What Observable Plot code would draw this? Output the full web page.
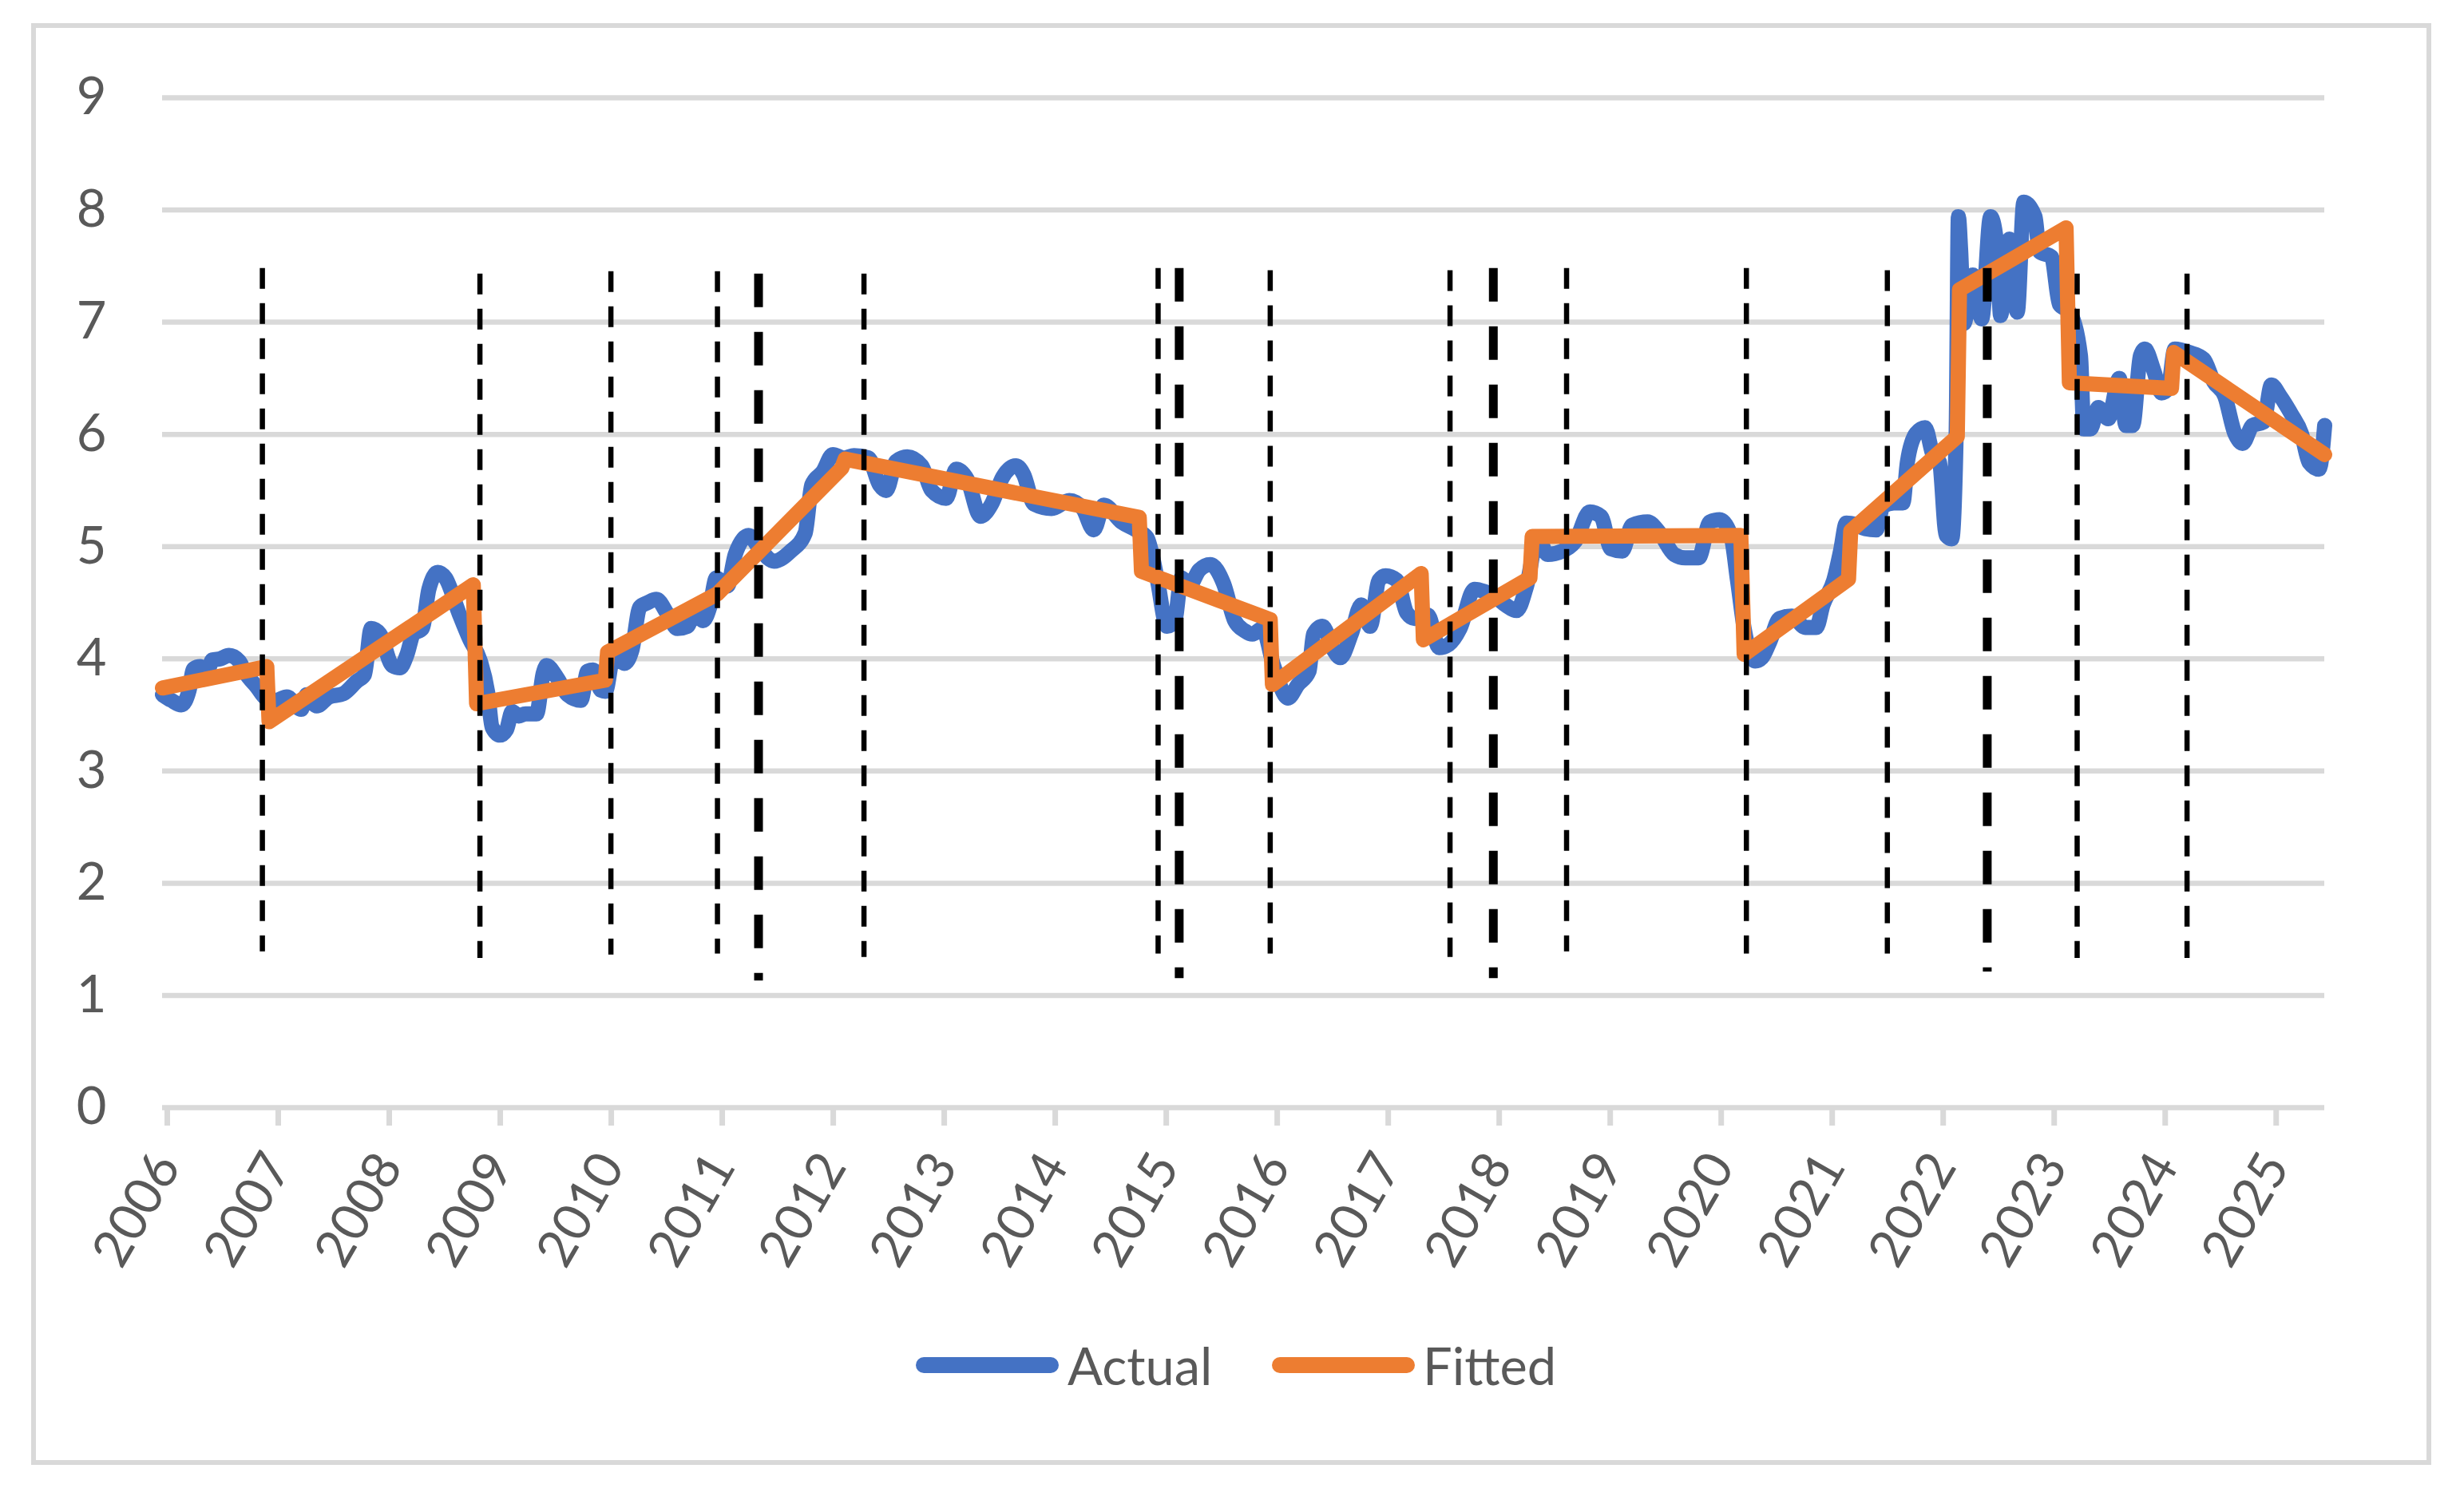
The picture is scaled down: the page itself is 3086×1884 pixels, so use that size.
<!DOCTYPE html>
<html>
<head>
<meta charset="utf-8">
<script src="https://cdn.jsdelivr.net/npm/d3@7"></script>
<script src="https://cdn.jsdelivr.net/npm/@observablehq/plot@0.6"></script>
<style>
  html, body { margin: 0; padding: 0; background: #ffffff; overflow: hidden; }
  #frame {
    position: absolute; left: 39px; top: 29px;
    width: 2994px; height: 1794px;
    border: 6px solid #d9d9d9; background: #ffffff;
  }
  #legend { position: relative; width: 2994px; height: 220px; font-family: Lato, "Open Sans", sans-serif; font-size: 65px; color: #595959; }
  #legend .item { position: absolute; top: 0; height: 220px; display: flex; align-items: center; }
</style>
</head>
<body>
<div id="frame">
  <div id="chart"></div>
  <div id="legend"></div>
</div>
<script>
// ---- Data ----
const seriesNames = ["Actual", "Fitted"];
const seriesColors = ["#4472C4", "#ED7D31"];

// Actual series: decimal year / value
const actualYear = [
  2006.00, 2006.08, 2006.17, 2006.24, 2006.28, 2006.34, 2006.40, 2006.45, 2006.52, 2006.60,
  2006.69, 2006.75, 2006.85, 2006.93, 2007.02, 2007.12, 2007.25, 2007.30, 2007.39, 2007.50,
  2007.63, 2007.75, 2007.82, 2007.88, 2007.96, 2008.07, 2008.14, 2008.20, 2008.26, 2008.34,
  2008.40, 2008.48, 2008.55, 2008.67, 2008.77, 2008.86, 2008.93, 2008.97, 2009.04, 2009.10,
  2009.15, 2009.21, 2009.27, 2009.37, 2009.43, 2009.46, 2009.55, 2009.65, 2009.77, 2009.83,
  2009.88, 2009.95, 2009.99, 2010.07, 2010.16, 2010.23, 2010.30, 2010.37, 2010.45, 2010.55,
  2010.64, 2010.73, 2010.80, 2010.87, 2010.93, 2010.99, 2011.09, 2011.16, 2011.28, 2011.38,
  2011.51, 2011.66, 2011.79, 2011.85, 2011.95, 2012.04, 2012.14, 2012.23, 2012.36, 2012.46,
  2012.52, 2012.61, 2012.71, 2012.84, 2012.93, 2013.06, 2013.15, 2013.25, 2013.37, 2013.47,
  2013.57, 2013.69, 2013.76, 2013.85, 2014.01, 2014.17, 2014.29, 2014.39, 2014.48, 2014.64,
  2014.77, 2014.87, 2014.96, 2015.05, 2015.12, 2015.18, 2015.25, 2015.34, 2015.44, 2015.56,
  2015.66, 2015.75, 2015.82, 2015.91, 2016.01, 2016.14, 2016.23, 2016.33, 2016.37, 2016.45,
  2016.55, 2016.61, 2016.71, 2016.80, 2016.88, 2016.96, 2017.02, 2017.12, 2017.21, 2017.28,
  2017.40, 2017.50, 2017.59, 2017.69, 2017.82, 2017.91, 2018.01, 2018.10, 2018.20, 2018.29,
  2018.39, 2018.48, 2018.61, 2018.73, 2018.86, 2018.96, 2019.05, 2019.15, 2019.24, 2019.38,
  2019.49, 2019.62, 2019.72, 2019.84, 2019.94, 2020.03, 2020.13, 2020.19, 2020.25, 2020.35,
  2020.41, 2020.48, 2020.57, 2020.68, 2020.80, 2020.90, 2020.96, 2021.06, 2021.12, 2021.17,
  2021.25, 2021.34, 2021.44, 2021.50, 2021.60, 2021.68, 2021.72, 2021.80, 2021.88, 2021.95,
  2022.01, 2022.07, 2022.12, 2022.16, 2022.18, 2022.20, 2022.23, 2022.31, 2022.39, 2022.47,
  2022.53, 2022.56, 2022.64, 2022.71, 2022.77, 2022.87, 2022.91, 2023.02, 2023.09, 2023.18,
  2023.28, 2023.31, 2023.37, 2023.44, 2023.53, 2023.63, 2023.69, 2023.75, 2023.82, 2023.86,
  2023.94, 2024.01, 2024.07, 2024.13, 2024.26, 2024.39, 2024.48, 2024.58, 2024.67, 2024.74,
  2024.83, 2024.93, 2025.00, 2025.08, 2025.18, 2025.27, 2025.34, 2025.43, 2025.48
];
const actualValue = [
  3.68, 3.63, 3.59, 3.72, 3.91, 3.93, 3.88, 3.99, 4.00, 4.03,
  3.98, 3.87, 3.75, 3.65, 3.63, 3.66, 3.55, 3.68, 3.58, 3.66,
  3.69, 3.80, 3.86, 4.27, 4.22, 3.94, 3.92, 4.03, 4.22, 4.27,
  4.62, 4.77, 4.72, 4.41, 4.17, 3.99, 3.70, 3.39, 3.32, 3.37,
  3.53, 3.49, 3.51, 3.51, 3.87, 3.94, 3.84, 3.68, 3.63, 3.89,
  3.90, 3.72, 3.71, 4.06, 3.96, 4.08, 4.46, 4.50, 4.53, 4.40,
  4.27, 4.29, 4.45, 4.34, 4.46, 4.72, 4.65, 4.93, 5.10, 4.98,
  4.87, 4.96, 5.12, 5.55, 5.67, 5.82, 5.79, 5.81, 5.79, 5.55,
  5.50, 5.76, 5.80, 5.72, 5.50, 5.43, 5.69, 5.60, 5.27, 5.38,
  5.62, 5.72, 5.64, 5.38, 5.34, 5.41, 5.34, 5.15, 5.37, 5.22,
  5.15, 5.08, 4.72, 4.29, 4.34, 4.72, 4.65, 4.79, 4.84, 4.67,
  4.34, 4.25, 4.22, 4.27, 3.94, 3.65, 3.77, 3.89, 4.22, 4.29,
  4.08, 4.01, 4.22, 4.48, 4.29, 4.70, 4.74, 4.70, 4.41, 4.36,
  4.39, 4.10, 4.13, 4.27, 4.62, 4.60, 4.55, 4.48, 4.43, 4.65,
  5.08, 4.93, 4.96, 5.05, 5.31, 5.27, 4.98, 4.96, 5.19, 5.22,
  5.12, 4.93, 4.90, 4.90, 5.22, 5.24, 5.10, 4.70, 4.27, 3.98,
  4.01, 4.15, 4.36, 4.38, 4.28, 4.28, 4.48, 4.71, 4.97, 5.21,
  5.20, 5.16, 5.15, 5.36, 5.39, 5.39, 5.75, 6.01, 6.06, 5.82,
  5.75, 5.10, 5.07, 6.01, 7.94, 7.65, 6.99, 7.42, 7.03, 7.94,
  7.65, 7.06, 7.74, 7.09, 8.07, 7.94, 7.63, 7.58, 7.16, 7.09,
  6.70, 6.05, 6.05, 6.24, 6.14, 6.50, 6.08, 6.08, 6.70, 6.76,
  6.57, 6.37, 6.41, 6.76, 6.73, 6.67, 6.47, 6.34, 6.01, 5.92,
  6.08, 6.11, 6.44, 6.34, 6.18, 6.01, 5.75, 5.69, 6.08
];

// Fitted series: piecewise trend with breaks
const fittedYear = [
  2006.00, 2006.94, 2006.96, 2008.80, 2008.83, 2009.99, 2010.01, 2011.00, 2012.12, 2012.15,
  2014.80, 2014.82, 2015.98, 2016.00, 2017.34, 2017.36, 2018.32, 2018.34, 2020.22, 2020.25,
  2021.19, 2021.21, 2022.17, 2022.19, 2023.15, 2023.18, 2024.10, 2024.12, 2025.48
];
const fittedValue = [
  3.74, 3.93, 3.44, 4.66, 3.60, 3.81, 4.06, 4.58, 5.70, 5.78,
  5.26, 4.78, 4.35, 3.77, 4.76, 4.17, 4.72, 5.09, 5.10, 4.04,
  4.71, 5.14, 5.98, 7.29, 7.84, 6.46, 6.41, 6.73, 5.82
];

// Break markers (vertical dashed lines)
const breakYear   = [2006.90, 2008.86, 2010.04, 2011.00, 2011.37, 2012.32, 2014.97, 2015.16, 2015.98, 2017.60, 2017.99, 2018.65, 2020.27, 2021.54, 2022.44, 2023.25, 2024.24];
const breakTop    = [7.48, 7.43, 7.45, 7.45, 7.43, 7.43, 7.48, 7.48, 7.46, 7.46, 7.48, 7.48, 7.48, 7.46, 7.48, 7.43, 7.43];
const breakBottom = [1.39, 1.33, 1.36, 1.37, 1.13, 1.34, 1.37, 1.15, 1.37, 1.34, 1.15, 1.39, 1.37, 1.37, 1.21, 1.33, 1.33];
const breakHeavy  = [false, false, false, false, true, false, false, true, false, false, true, false, false, false, true, false, false];

const yearTicks = [2006, 2007, 2008, 2009, 2010, 2011, 2012, 2013, 2014, 2015, 2016, 2017, 2018, 2019, 2020, 2021, 2022, 2023, 2024, 2025];
const valueTicks = [0, 1, 2, 3, 4, 5, 6, 7, 8, 9];

// ---- Build tables ----
const actual = actualYear.map((x, i) => ({x, y: actualValue[i]}));
const fitted = fittedYear.map((x, i) => ({x, y: fittedValue[i]}));
const breaks = breakYear.map((x, i) => ({x, top: breakTop[i], bottom: breakBottom[i], heavy: breakHeavy[i]}));

const chart = Plot.plot({
  width: 2994,
  height: 1565,
  marginLeft: 158,
  marginRight: 128,
  marginTop: 87,
  marginBottom: 213,
  style: {fontFamily: "Lato, 'Open Sans', sans-serif", fontSize: "65px", color: "#595959", background: "#ffffff"},
  x: {type: "linear", domain: [2006, 2025.48]},
  y: {domain: [0, 9]},
  marks: [
    Plot.gridY(valueTicks, {stroke: "#d9d9d9", strokeOpacity: 1, strokeWidth: 6.5}),
    Plot.axisY(valueTicks, {tickSize: 0, tickPadding: 70, fill: "#595959", label: null, tickFormat: d => String(d)}),
    Plot.axisX(yearTicks, {
      tickSize: 23, tickPadding: 40, tickRotate: -60,
      stroke: "#d9d9d9", strokeWidth: 7, fill: "#595959",
      textAnchor: "end", lineAnchor: "middle", dx: 6,
      label: null, tickFormat: d => String(d)
    }),
    Plot.line(actual, {x: "x", y: "y", stroke: seriesColors[0], strokeWidth: 19, curve: "monotone-x", strokeLinejoin: "round", strokeLinecap: "round"}),
    Plot.line(fitted, {x: "x", y: "y", stroke: seriesColors[1], strokeWidth: 19, strokeLinejoin: "round", strokeLinecap: "round"}),
    Plot.ruleX(breaks.filter(d => !d.heavy), {x: "x", y1: "top", y2: "bottom", stroke: "#000000", strokeWidth: 6.5, strokeDasharray: "26,18"}),
    Plot.ruleX(breaks.filter(d => d.heavy), {x: "x", y1: "top", y2: "bottom", stroke: "#000000", strokeWidth: 11, strokeDasharray: "42,31"})
  ]
});
document.getElementById("chart").appendChild(chart);

// ---- Legend (HTML, below the SVG) ----
const legend = document.getElementById("legend");
const legendLeft = [[1102, 1292], [1548, 1737]];
seriesNames.forEach((name, i) => {
  const sw = document.createElement("div");
  sw.className = "item";
  sw.style.left = legendLeft[i][0] + "px";
  sw.innerHTML = `<svg width="179" height="40"><line x1="10" y1="20" x2="169" y2="20" stroke="${seriesColors[i]}" stroke-width="20" stroke-linecap="round"/></svg>`;
  legend.appendChild(sw);
  const tx = document.createElement("div");
  tx.className = "item";
  tx.style.left = legendLeft[i][1] + "px";
  tx.textContent = name;
  legend.appendChild(tx);
});
</script>
</body>
</html>
